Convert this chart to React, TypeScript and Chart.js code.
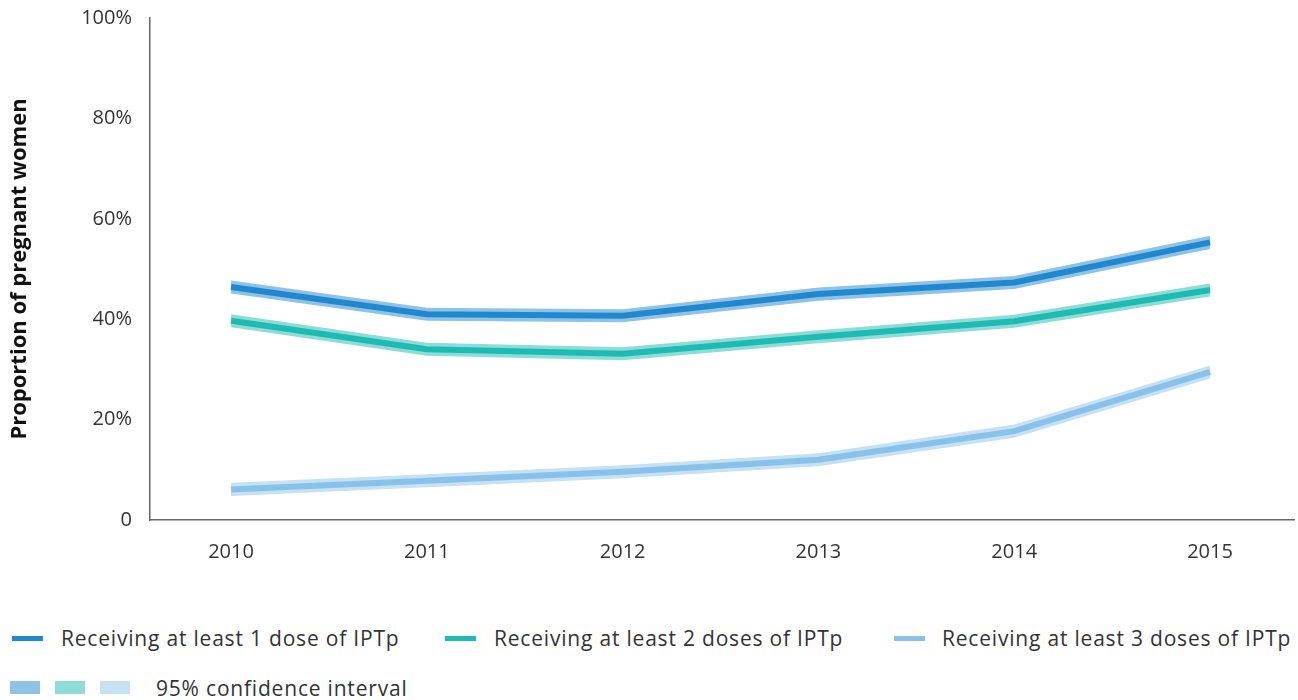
import React, { useEffect, useRef } from "react";
import { Chart, registerables } from "chart.js";

Chart.register(...registerables);

const years = [2010, 2011, 2012, 2013, 2014, 2015];
const yTicks = [0, 20, 40, 60, 80, 100];
const yTickLabels = ["0", "20%", "40%", "60%", "80%", "100%"];

const seriesLabels = [
  "Receiving at least 1 dose of IPTp",
  "Receiving at least 2 doses of IPTp",
  "Receiving at least 3 doses of IPTp",
];
const ciLabel = "95% confidence interval";

const dose1 = [46.4, 41.0, 40.7, 45.0, 47.3, 55.3];
const dose1Low = [45.1, 39.7, 39.4, 43.7, 46.0, 54.0];
const dose1High = [47.7, 42.3, 42.0, 46.3, 48.6, 56.6];

const dose2 = [39.7, 34.0, 33.1, 36.5, 39.6, 45.8];
const dose2Low = [38.4, 32.7, 31.8, 35.2, 38.3, 44.5];
const dose2High = [41.0, 35.3, 34.4, 37.8, 40.9, 47.1];

const dose3 = [6.1, 7.8, 9.6, 12.0, 17.7, 29.5];
const dose3Low = [4.8, 6.5, 8.3, 10.7, 16.4, 28.2];
const dose3High = [7.4, 9.1, 10.9, 13.3, 19.0, 30.8];

const lineColors = ["#1f88cf", "#1cbcb4", "#88c2ea"];
const bandColors = ["#8fc3e6", "#8edcd7", "#c5e1f4"];

const FONT = "'Open Sans', sans-serif";
const TEXT = "#333333";

const pts = (vals: number[]) => vals.map((v, i) => ({ x: years[i], y: v }));

export default function App() {
  const ref = useRef<HTMLCanvasElement | null>(null);

  useEffect(() => {
    if (!ref.current) return;
    const mids = [dose1, dose2, dose3];
    const lows = [dose1Low, dose2Low, dose3Low];
    const highs = [dose1High, dose2High, dose3High];

    const lineSets = mids.map((m, i) => ({
      label: seriesLabels[i],
      data: pts(m),
      borderColor: lineColors[i],
      backgroundColor: lineColors[i],
      borderWidth: 6,
      pointRadius: 0,
      tension: 0,
      fill: false,
      order: 0,
    }));
    const bandSets: any[] = [];
    highs.forEach((h, i) => {
      bandSets.push({
        label: "upper" + i,
        data: pts(h),
        borderWidth: 0,
        borderColor: "rgba(0,0,0,0)",
        backgroundColor: bandColors[i],
        pointRadius: 0,
        tension: 0,
        fill: "+1",
        order: 1,
      });
      bandSets.push({
        label: "lower" + i,
        data: pts(lows[i]),
        borderWidth: 0,
        borderColor: "rgba(0,0,0,0)",
        backgroundColor: bandColors[i],
        pointRadius: 0,
        tension: 0,
        fill: false,
        order: 1,
      });
    });

    const chart = new Chart(ref.current, {
      type: "line",
      data: { datasets: [...lineSets, ...bandSets] as any },
      options: {
        animation: false,
        responsive: false,
        maintainAspectRatio: false,
        layout: { padding: { left: 0, right: 4, top: 18, bottom: 0 } },
        plugins: {
          legend: { display: false },
          tooltip: { enabled: false },
        },
        scales: {
          x: {
            type: "linear",
            min: 2009.586,
            max: 2015.429,
            afterBuildTicks: (s: any) => {
              s.ticks = years.map((v) => ({ value: v }));
            },
            afterFit: (s: any) => {
              s.height = 60;
              s.paddingLeft = 0;
              s.paddingRight = 0;
            },
            ticks: {
              callback: (v: any) => String(v),
              color: TEXT,
              font: { family: FONT, size: 20 },
              padding: 20,
              maxRotation: 0,
            },
            grid: { drawOnChartArea: false, drawTicks: false },
            border: { display: true, color: "#666666", width: 1.5 },
          },
          y: {
            min: 0,
            max: 100,
            afterBuildTicks: (s: any) => {
              s.ticks = yTicks.map((v) => ({ value: v }));
            },
            afterFit: (s: any) => {
              s.width = 150;
              s.paddingTop = 0;
              s.paddingBottom = 0;
            },
            ticks: {
              callback: (v: any) => yTickLabels[yTicks.indexOf(Number(v))],
              color: TEXT,
              font: { family: FONT, size: 20 },
              padding: 18,
            },
            title: {
              display: true,
              text: "Proportion of pregnant women",
              color: "#111111",
              font: { family: FONT, size: 22, weight: "bold" },
              padding: { top: 7, bottom: 0 },
            },
            grid: { drawOnChartArea: false, drawTicks: false },
            border: { display: true, color: "#666666", width: 1.5 },
          },
        },
      },
    });
    return () => chart.destroy();
  }, []);

  const textStyle: React.CSSProperties = {
    position: "absolute",
    fontFamily: FONT,
    fontSize: 21,
    letterSpacing: "0.8px",
    color: TEXT,
    whiteSpace: "nowrap",
    lineHeight: "24px",
  };
  const swatchLeft = [12, 445, 894];
  const textLeft = [61, 494, 942];
  const squareLeft = [10, 55, 100];

  return (
    <div style={{ position: "absolute", left: 0, top: 0, width: 1298, height: 700, background: "#fff", overflow: "hidden" }}>
      <canvas ref={ref} width={1298} height={580} style={{ position: "absolute", left: 0, top: 0 }} />
      {seriesLabels.map((l, i) => (
        <React.Fragment key={l}>
          <div style={{ position: "absolute", left: swatchLeft[i], top: 636, width: 31, height: 5, background: lineColors[i] }} />
          <div style={{ ...textStyle, left: textLeft[i], top: 626 }}>{l}</div>
        </React.Fragment>
      ))}
      {bandColors.map((c, i) => (
        <div key={c} style={{ position: "absolute", left: squareLeft[i], top: 681, width: 30, height: 13, background: c }} />
      ))}
      <div style={{ ...textStyle, left: 156, top: 676 }}>{ciLabel}</div>
    </div>
  );
}
